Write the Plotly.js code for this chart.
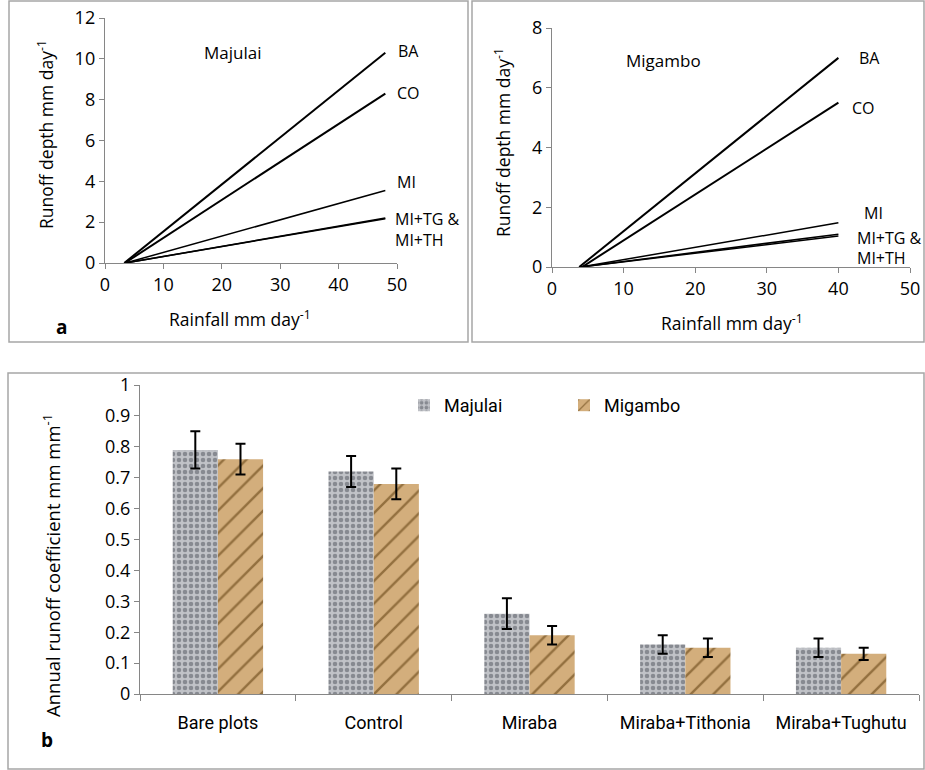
<!DOCTYPE html>
<html>
<head>
<meta charset="utf-8">
<script src="https://cdn.plot.ly/plotly-3.0.1.min.js"></script>
<style>html,body{margin:0;padding:0;background:#fff}#chart{width:925px;height:770px}</style>
</head>
<body>
<div id="chart"></div>
<script>
// ---- Panel a: Majulai runoff lines (x = rainfall, y = runoff depth) ----
const majRainStart = [3.3, 3.4, 3.5, 3.5, 3.5];
const majRainEnd = 48;
const majRunoffEnd = [10.3, 8.3, 3.55, 2.2, 2.17];
const lineNames = ['BA', 'CO', 'MI', 'MI+TG', 'MI+TH'];
const lineWidths = [2, 2, 1.5, 1.5, 1.5];

// ---- Panel a (right): Migambo ----
const migRainStart = [3.8, 4.2, 4.0, 4.0, 4.0];
const migRainEnd = 40;
const migRunoffEnd = [7.0, 5.5, 1.48, 1.1, 1.04];

// ---- Panel b: annual runoff coefficient ----
const treatments = ['Bare plots', 'Control', 'Miraba', 'Miraba+Tithonia', 'Miraba+Tughutu'];
const majulaiCoef = [0.79, 0.72, 0.26, 0.16, 0.15];
const majulaiErr = [0.06, 0.05, 0.05, 0.03, 0.03];
const migamboCoef = [0.76, 0.68, 0.19, 0.15, 0.13];
const migamboErr = [0.05, 0.05, 0.03, 0.03, 0.02];

const W = 925, H = 770;
const px = v => v / W;
const py = v => 1 - v / H;

const traces = [];
lineNames.forEach((n, i) => {
  traces.push({type: 'scatter', mode: 'lines', x: [majRainStart[i], majRainEnd], y: [0, majRunoffEnd[i]],
    line: {color: '#000', width: lineWidths[i]}, xaxis: 'x', yaxis: 'y', showlegend: false, hoverinfo: 'skip'});
  traces.push({type: 'scatter', mode: 'lines', x: [migRainStart[i], migRainEnd], y: [0, migRunoffEnd[i]],
    line: {color: '#000', width: lineWidths[i]}, xaxis: 'x2', yaxis: 'y2', showlegend: false, hoverinfo: 'skip'});
});

traces.push({type: 'bar', name: 'Majulai', x: treatments, y: majulaiCoef, xaxis: 'x3', yaxis: 'y3',
  error_y: {type: 'data', array: majulaiErr, visible: true, color: '#000', thickness: 2, width: 5},
  marker: {color: '#b5b7bc', line: {width: 0},
    pattern: {shape: '.', bgcolor: '#c0c2c7', fgcolor: '#878a91', size: 6, solidity: 0.45}}});
traces.push({type: 'bar', name: 'Migambo', x: treatments, y: migamboCoef, xaxis: 'x3', yaxis: 'y3',
  error_y: {type: 'data', array: migamboErr, visible: true, color: '#000', thickness: 2, width: 5},
  marker: {color: '#c9a06b', line: {width: 0},
    pattern: {shape: '/', bgcolor: '#d3ae7c', fgcolor: '#93703f', size: 16, solidity: 0.15}}});

const axCol = '#868686';
const OS = 'Open Sans, sans-serif';
const tickFont = {family: OS, size: 18, color: '#000'};
const baseAx = {showgrid: false, zeroline: false, showline: true, linecolor: axCol, linewidth: 1.2,
  ticks: 'outside', ticklen: 5, tickcolor: axCol, tickfont: tickFont, fixedrange: true};

const narrowFont = {family: 'Roboto, sans-serif', size: 18, color: '#000'};
const ann = [];
function A(text, x, y, opts) {
  ann.push(Object.assign({text: text, x: px(x), y: py(y), xref: 'paper', yref: 'paper', showarrow: false,
    xanchor: 'center', yanchor: 'middle', font: {family: OS, size: 17.5, color: '#000'}}, opts || {}));
}
const lbl = {family: OS, size: 16, color: '#000'};
// panel a left
A('Runoff depth mm day<sup>-1</sup>', 45, 135, {textangle: -90});
A('Rainfall mm day<sup>-1</sup>', 240, 318);
A('Majulai', 233, 53, {font: {family: OS, size: 17, color: '#000'}});
A('<b>a</b>', 62, 327, {font: {family: OS, size: 19, color: '#000'}});
A('BA', 396, 51, {xanchor: 'left', font: lbl});
A('CO', 395, 93, {xanchor: 'left', font: lbl});
A('MI', 395, 182, {xanchor: 'left', font: lbl});
A('MI+TG &amp;', 393, 219, {xanchor: 'left', font: lbl});
A('MI+TH', 393, 240, {xanchor: 'left', font: lbl});
// panel a right
A('Runoff depth mm day<sup>-1</sup>', 502, 143, {textangle: -90});
A('Rainfall mm day<sup>-1</sup>', 732, 322);
A('Migambo', 663, 60, {font: {family: OS, size: 17, color: '#000'}});
A('BA', 857, 58, {xanchor: 'left', font: lbl});
A('CO', 850, 108, {xanchor: 'left', font: lbl});
A('MI', 862, 213, {xanchor: 'left', font: lbl});
A('MI+TG &amp;', 855, 238, {xanchor: 'left', font: lbl});
A('MI+TH', 855, 258, {xanchor: 'left', font: lbl});
// panel b
A('Annual runoff coefficient mm mm<sup>-1</sup>', 51, 566, {textangle: -90, font: {family: OS, size: 18.5, color: '#000'}});
A('<b>b</b>', 47, 740, {font: {family: OS, size: 19, color: '#000'}});

const frame = {color: '#a6a6a6', width: 1.5};
const shapes = [
  {type: 'rect', xref: 'paper', yref: 'paper', x0: px(9), x1: px(468), y0: py(342), y1: py(1), line: frame},
  {type: 'rect', xref: 'paper', yref: 'paper', x0: px(472), x1: px(924), y0: py(342), y1: py(1), line: frame},
  {type: 'rect', xref: 'paper', yref: 'paper', x0: px(8), x1: px(924), y0: py(769), y1: py(373), line: frame}
];

const layout = {
  width: W, height: H, margin: {l: 0, r: 0, t: 0, b: 0},
  paper_bgcolor: '#fff', plot_bgcolor: 'rgba(0,0,0,0)',
  showlegend: true,
  legend: {orientation: 'h', x: px(404), y: py(387), xanchor: 'left', yanchor: 'top',
    font: narrowFont, entrywidth: 115, itemwidth: 30, bgcolor: 'rgba(0,0,0,0)'},
  barmode: 'group', bargap: 0.42, bargroupgap: 0,
  xaxis: Object.assign({}, baseAx, {domain: [px(105), px(397)], range: [0, 50], dtick: 10, anchor: 'y'}),
  yaxis: Object.assign({}, baseAx, {domain: [py(263), py(18)], range: [0, 12], dtick: 2, anchor: 'x'}),
  xaxis2: Object.assign({}, baseAx, {domain: [px(552), px(910)], range: [0, 50], dtick: 10, anchor: 'y2'}),
  yaxis2: Object.assign({}, baseAx, {domain: [py(267), py(28)], range: [0, 8], dtick: 2, anchor: 'x2'}),
  xaxis3: Object.assign({}, baseAx, {domain: [px(140), px(919)], anchor: 'y3', type: 'category',
    ticks: 'outside', tickson: 'boundaries', ticklen: 6, tickangle: 0, ticklabelstandoff: 12, tickfont: narrowFont}),
  yaxis3: Object.assign({}, baseAx, {domain: [py(694), py(385)], range: [0, 1], dtick: 0.1, anchor: 'x3',
    tickfont: {family: OS, size: 18, color: '#000'}}),
  annotations: ann,
  shapes: shapes
};

Plotly.newPlot('chart', traces, layout, {displayModeBar: false, staticPlot: true});
</script>
</body>
</html>
